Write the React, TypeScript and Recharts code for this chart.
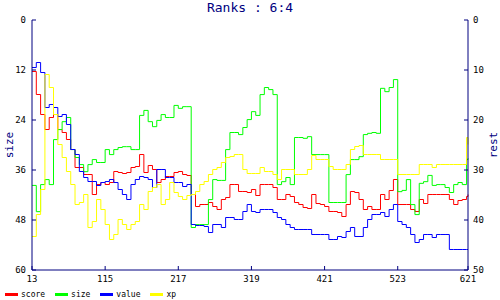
import { LineChart, Line, XAxis, YAxis, Legend } from 'recharts';

const NAVY = '#000080';
const MONO = '"DejaVu Sans Mono", monospace';

// turn number on the x axis
const turns = [
  13, 19, 25, 31, 37, 43, 49, 55, 61, 67,
  73, 79, 85, 91, 97, 103, 109, 115, 121, 127,
  133, 139, 145, 151, 157, 163, 169, 175, 181, 187,
  193, 199, 205, 211, 217, 223, 229, 235, 241, 247,
  253, 259, 265, 271, 277, 283, 289, 295, 301, 307,
  313, 319, 325, 331, 337, 343, 349, 355, 361, 367,
  373, 379, 385, 391, 397, 403, 409, 415, 421, 427,
  433, 439, 445, 451, 457, 463, 469, 475, 481, 487,
  493, 499, 505, 511, 517, 523, 529, 535, 541, 547,
  553, 559, 565, 571, 577, 583, 589, 595, 601, 607,
  613, 619, 621,
];

// rank values (right axis "rest")
const score = [
  10.3, 14.9, 18.9, 21.9, 19.5, 18.9, 21.9, 22.5, 23.9, 25.9,
  29.5, 29.5, 30.9, 30.9, 34.9, 32.9, 32.5, 32.9, 32.5, 30.3,
  30.5, 30.7, 30.5, 29.5, 29.3, 26.9, 30.5, 29.1, 29.9, 32.5,
  31.9, 31.3, 31.3, 30.5, 30.3, 30.9, 31.1, 34.9, 37.3, 36.9,
  36.9, 36.5, 37.3, 37.9, 35.9, 35.5, 32.9, 32.9, 34.3, 34.3,
  34.5, 33.9, 35.1, 32.9, 32.9, 32.9, 33.5, 35.9, 35.9, 34.9,
  35.3, 36.5, 36.9, 37.5, 37.7, 34.9, 36.7, 36.9, 37.3, 38.3,
  38.3, 38.5, 39.3, 36.9, 34.3, 34.5, 35.9, 37.9, 37.3, 37.9,
  37.9, 34.9, 35.9, 34.1, 31.9, 36.9, 36.9, 36.9, 37.9, 38.3,
  35.9, 36.7, 34.9, 34.9, 34.9, 34.9, 34.9, 35.9, 36.9, 36.1,
  35.9, 35.3, 34.9,
];

// left axis "size"
const size = [
  39.7, 46.0, 39.5, 38.3, 39.5, 28.7, 26.3, 24.4, 23.4, 31.1,
  33.0, 34.7, 36.4, 34.7, 33.5, 34.2, 34.2, 31.1, 32.3, 31.1,
  30.6, 30.4, 30.4, 31.1, 31.1, 22.9, 21.7, 24.4, 25.6, 24.1,
  22.7, 23.4, 23.4, 20.5, 21.2, 20.8, 20.8, 49.8, 49.1, 49.1,
  49.1, 43.1, 38.3, 38.5, 38.5, 31.1, 27.0, 27.0, 27.5, 25.8,
  23.9, 22.0, 22.9, 17.9, 16.2, 16.7, 17.9, 39.5, 38.8, 37.8,
  39.5, 28.2, 28.2, 28.4, 28.0, 32.3, 32.3, 32.3, 32.3, 43.8,
  43.8, 43.8, 43.8, 37.1, 33.5, 33.5, 32.8, 27.5, 27.2, 27.0,
  27.2, 16.4, 17.2, 16.2, 14.3, 41.2, 40.9, 38.3, 44.3, 46.7,
  39.2, 38.8, 37.3, 39.7, 39.5, 39.5, 40.2, 41.4, 39.5, 39.0,
  39.5, 33.5, 33.2,
];

const value = [
  9.5, 8.5, 10.5, 17.5, 16.9, 17.5, 19.3, 18.9, 20.9, 25.9,
  26.9, 30.3, 31.5, 32.3, 32.3, 33.1, 32.5, 32.3, 31.9, 32.5,
  33.9, 34.9, 35.9, 32.9, 31.9, 31.3, 31.5, 31.9, 33.5, 29.9,
  29.9, 31.5, 31.5, 32.5, 32.5, 33.3, 32.9, 40.9, 41.1, 41.1,
  41.3, 42.5, 40.9, 40.9, 41.5, 39.5, 39.5, 39.9, 39.9, 38.3,
  36.9, 38.3, 38.5, 37.9, 37.9, 37.9, 38.5, 39.5, 39.9, 40.9,
  41.5, 41.9, 41.9, 41.9, 41.9, 42.9, 42.9, 42.9, 42.9, 43.9,
  43.9, 43.3, 43.5, 42.3, 41.5, 43.3, 43.3, 41.5, 39.9, 38.9,
  38.9, 38.5, 39.3, 37.9, 36.9, 40.3, 40.9, 41.5, 42.9, 44.5,
  43.9, 42.9, 42.9, 43.5, 42.9, 42.9, 42.9, 45.9, 45.9, 45.9,
  45.9, 45.9, 45.9,
];

const xp = [
  43.3, 38.9, 33.9, 10.9, 13.5, 18.9, 24.9, 27.5, 30.3, 32.9,
  36.9, 36.5, 34.9, 41.5, 40.3, 35.9, 37.9, 40.9, 43.9, 42.9,
  39.9, 40.9, 41.9, 40.9, 40.3, 36.9, 37.9, 34.3, 33.5, 32.9,
  36.9, 35.9, 32.5, 34.5, 35.3, 35.9, 35.1, 34.9, 34.3, 32.9,
  32.3, 30.9, 29.9, 29.5, 28.5, 27.5, 27.3, 26.9, 26.9, 29.9,
  30.7, 30.7, 30.7, 29.5, 30.3, 30.3, 30.9, 31.9, 29.9, 29.9,
  29.9, 30.9, 30.9, 30.9, 29.9, 27.1, 27.9, 27.9, 27.9, 29.3,
  29.9, 29.9, 29.9, 28.9, 25.9, 25.3, 25.1, 26.9, 26.9, 26.9,
  26.9, 27.9, 27.9, 27.9, 27.9, 30.9, 30.9, 30.9, 30.9, 30.9,
  28.9, 28.9, 28.9, 29.5, 28.9, 28.9, 28.9, 28.9, 28.9, 28.9,
  28.9, 23.5, 24.9,
];

const xTicks = [13, 115, 217, 319, 421, 523, 621];
const sizeTicks = [0, 12, 24, 36, 48, 60];
const restTicks = [0, 10, 20, 30, 40, 50];

const series = [
  { key: 'score', color: '#ff0000', axis: 'rest' },
  { key: 'size', color: '#00ff00', axis: 'size' },
  { key: 'value', color: '#0000ff', axis: 'rest' },
  { key: 'xp', color: '#ffff00', axis: 'rest' },
];

const rows = turns.map((x, i) => ({ x, score: score[i], size: size[i], value: value[i], xp: xp[i] }));

const LeftTick = (p: any) => (
  <g>
    <line x1={p.x + 6} x2={p.x + 10} y1={p.y} y2={p.y} stroke={NAVY} />
    <text x={p.x} y={p.y} dy={3} textAnchor="end" fontSize={9} fontFamily={MONO} fill="#000">
      {p.payload.value}
    </text>
  </g>
);

const RightTick = (p: any) => (
  <g>
    <line x1={p.x - 5} x2={p.x - 9} y1={p.y} y2={p.y} stroke={NAVY} />
    <text x={p.x} y={p.y} dy={3} textAnchor="start" fontSize={9} fontFamily={MONO} fill="#000">
      {p.payload.value}
    </text>
  </g>
);

const BottomTick = (p: any) => (
  <g>
    <line x1={p.x} x2={p.x} y1={p.y - 5} y2={p.y - 9} stroke={NAVY} />
    <text x={p.x} y={p.y} dy={7} textAnchor="middle" fontSize={9} fontFamily={MONO} fill="#000">
      {p.payload.value}
    </text>
  </g>
);

const axisTitle = (text: string, side: 'left' | 'right') => (p: any) => {
  const vb = p.viewBox;
  const cx = side === 'left' ? vb.x + 9 : vb.x + vb.width - 7;
  const cy = vb.y + vb.height / 2;
  return (
    <text x={cx} y={cy} transform={`rotate(-90 ${cx} ${cy})`} textAnchor="middle" dominantBaseline="central"
      fontSize={11} fontFamily={MONO} fill={NAVY}>
      {text}
    </text>
  );
};

const renderLegend = () => (
  <div style={{ display: 'flex', height: 14, paddingTop: 3, boxSizing: 'border-box', paddingLeft: 5, fontFamily: MONO, fontSize: 8, color: '#000' }}>
    {series.map((s) => (
      <div key={s.key} style={{ display: 'flex', alignItems: 'center', marginRight: 10 }}>
        <span style={{ display: 'inline-block', width: 13, height: 3, background: s.color, marginRight: 3 }} />
        <span>{s.key}</span>
      </div>
    ))}
  </div>
);

export default function App() {
  return (
    <div style={{ position: 'absolute', left: 0, top: 0, width: 500, height: 300, background: '#fff' }}>
      <div style={{ position: 'absolute', left: 0, top: 1, width: 500, textAlign: 'center', fontFamily: MONO, fontSize: 13, lineHeight: '14px', color: NAVY }}>
        Ranks : 6:4
      </div>
      <LineChart width={500} height={300} data={rows} margin={{ top: 20, right: 0, bottom: 0, left: 0 }}>
        <XAxis dataKey="x" type="number" domain={[13, 621]} ticks={xTicks} interval={0} height={16}
          axisLine={{ stroke: NAVY }} tickLine={false} tickSize={0} tickMargin={5} tick={BottomTick} />
        <YAxis yAxisId="size" orientation="left" width={32} domain={[0, 60]} reversed ticks={sizeTicks} interval={0}
          axisLine={{ stroke: NAVY }} tickLine={false} tickSize={0} tickMargin={6} tick={LeftTick}
          label={axisTitle('size', 'left')} />
        <YAxis yAxisId="rest" orientation="right" width={32} domain={[0, 50]} reversed ticks={restTicks} interval={0}
          axisLine={{ stroke: NAVY }} tickLine={false} tickSize={0} tickMargin={5} tick={RightTick}
          label={axisTitle('rest', 'right')} />
        <Legend verticalAlign="bottom" align="left" content={renderLegend} />
        {series.map((s) => (
          <Line key={s.key} yAxisId={s.axis} dataKey={s.key} type="stepAfter" stroke={s.color}
            strokeWidth={1} dot={false} isAnimationActive={false} />
        ))}
      </LineChart>
    </div>
  );
}
